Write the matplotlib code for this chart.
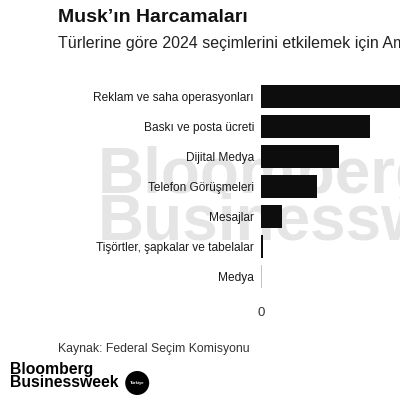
import matplotlib.pyplot as plt
from matplotlib.patches import Circle

# Harcama kalemleri (yukaridan asagiya)
categories = [
    "Reklam ve saha operasyonları",
    "Baskı ve posta ücreti",
    "Dijital Medya",
    "Telefon Görüşmeleri",
    "Mesajlar",
    "Tişörtler, şapkalar ve tabelalar",
    "Medya",
]
# goreli harcama degerleri (gorselden okunan)
values = [200, 109, 78, 56, 21, 1.6, 0.8]
bar_colors = ["#0d0d0d"] * 6 + ["#c4c4c4"]
x_ticks = [0]
x_tick_labels = ["0"]

plt.rcParams["font.family"] = ["Liberation Sans", "DejaVu Sans"]

fig = plt.figure(figsize=(4, 4), dpi=100)
fig.patch.set_facecolor("white")

# watermark behind the chart
fig.text(0.245, 0.56, "Bloomberg", fontsize=46, fontweight="bold",
         color="#e5e5e5", ha="left", va="center", zorder=0)
fig.text(0.245, 0.445, "Businessweek", fontsize=46, fontweight="bold",
         color="#e5e5e5", ha="left", va="center", zorder=0)

ax = fig.add_axes([0.6525, 0.27125, 0.3475, 0.525])
ax.set_facecolor("none")
ax.set_zorder(2)

ypos = list(range(len(categories)))
ax.barh(ypos, values, height=0.77, color=bar_colors)
ax.set_xlim(0, 139)
ax.set_ylim(6.5, -0.5)

ax.set_yticks(ypos)
ax.set_yticklabels(categories, fontsize=8.6, color="#1a1a1a")
ax.set_xticks(x_ticks)
ax.set_xticklabels(x_tick_labels, fontsize=9.5, color="#333333")
ax.tick_params(axis="both", length=0)
ax.tick_params(axis="y", pad=5)
ax.tick_params(axis="x", pad=11)
for s in ax.spines.values():
    s.set_visible(False)

# title, subtitle, source
fig.text(0.145, 0.955, "Musk’ın Harcamaları", fontsize=14, fontweight="bold",
         color="#111111", ha="left", va="center")
fig.text(0.145, 0.892,
         "Türlerine göre 2024 seçimlerini etkilemek için America PAC harcamaları",
         fontsize=11.5, color="#222222", ha="left", va="center")
fig.text(0.145, 0.127, "Kaynak: Federal Seçim Komisyonu", fontsize=8.8,
         color="#333333", ha="left", va="center")

# logo
fig.text(0.025, 0.06, "Bloomberg\nBusinessweek", fontsize=11.3, fontweight="bold",
         color="#000000", ha="left", va="center", linespacing=0.82)
fig.add_artist(Circle((0.343, 0.0425), 0.03, transform=fig.transFigure,
                      facecolor="black", edgecolor="none"))
fig.text(0.343, 0.0425, "Türkiye", fontsize=3, color="white",
         ha="center", va="center", fontweight="bold")

fig.savefig("out.png", dpi=100, facecolor="white")
